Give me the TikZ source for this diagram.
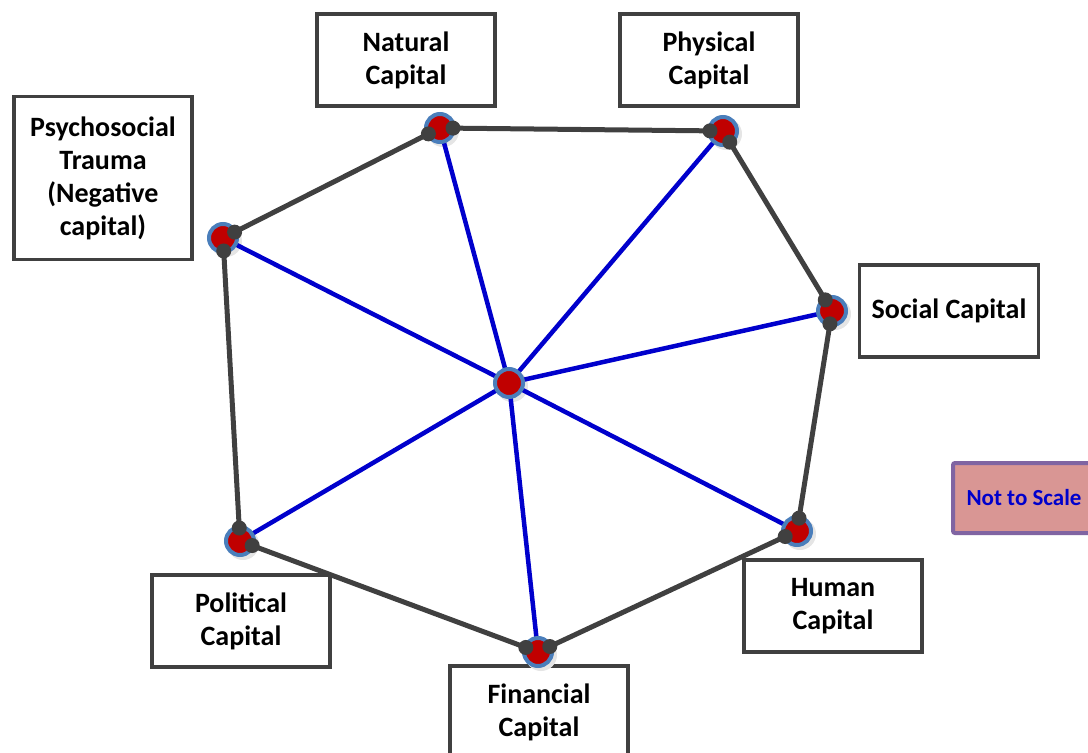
\documentclass[tikz,border=0pt]{standalone}
\usepackage{fontspec}
\setmainfont{Carlito}
\usetikzlibrary{calc}
\definecolor{edgegray}{HTML}{404040}
\definecolor{spokeblue}{HTML}{0000CC}
\definecolor{hubred}{HTML}{C00000}
\definecolor{ringblue}{HTML}{4A7EBB}
\definecolor{notefill}{HTML}{D99694}
\definecolor{noteline}{HTML}{8064A2}

\begin{document}
\begin{tikzpicture}[x=1pt, y=-1pt,
    capbox/.style={draw=edgegray, line width=3.5pt, fill=white, minimum width=178pt,
      minimum height=92pt, inner sep=0pt, align=center,
      font=\fontsize{28}{33}\selectfont\bfseries},
    hub/.style={circle, draw=ringblue, line width=4pt, fill=hubred,
      minimum size=28pt, inner sep=0pt},
    ring/.style={draw=edgegray, line width=5pt},
    spoke/.style={draw=spokeblue, line width=4.5pt}]
    \useasboundingbox (0,0) rectangle (1088,753);
    % vertices
    \coordinate (mid) at (509,383);
    \coordinate (nat) at (440,128);
    \coordinate (phy) at (723,131);
    \coordinate (soc) at (832,311);
    \coordinate (hum) at (797,531);
    \coordinate (fin) at (538,652);
    \coordinate (pol) at (240,541);
    \coordinate (psy) at (223,238);
    % boxes
    \node[capbox] (natbox) at (406,60) {Natural\\Capital};
    \node[capbox] (phybox) at (709,60) {Physical\\Capital};
    \node[capbox, minimum height=163pt] (psybox) at (103,178) {Psychosocial\\Trauma\\(Negative\\capital)};
    \node[capbox, minimum width=179pt] (socbox) at (949,311) {Social Capital};
    \node[capbox] (humbox) at (833,606) {Human\\Capital};
    \node[capbox] (polbox) at (241,621) {Political\\Capital};
    \node[capbox] (finbox) at (539,712) {Financial\\Capital};
    \node[draw=noteline, line width=4pt, fill=notefill, rounded corners=2pt,
      minimum width=142pt, minimum height=70pt, text=spokeblue,
      font=\fontsize{23}{27}\selectfont\bfseries] (note) at (1024,498) {Not to Scale};
    % shadows
    \foreach \v in {mid,nat,phy,soc,hum,fin,pol,psy}
      \fill[black!10] ($(\v)+(3,3)$) circle (16pt);
    % spokes
    \foreach \v in {nat,phy,soc,hum,fin,pol,psy}
      \draw[spoke] (mid) -- (\v);
    % outer ring
    \draw[ring] (psy) -- (nat) -- (phy) -- (soc) -- (hum) -- (fin) -- (pol) -- cycle;
    % hubs
    \foreach \v in {mid,nat,phy,soc,hum,fin,pol,psy}
      \node[hub] (\v hub) at (\v) {};
    % knobs where the ring meets the hubs
    \foreach \a/\b in {psy/nat,nat/phy,phy/soc,soc/hum,hum/fin,fin/pol,pol/psy}{
      \fill[edgegray] ($(\a)!13pt!(\b)$) circle (7.5pt);
      \fill[edgegray] ($(\b)!13pt!(\a)$) circle (7.5pt);
    }
\end{tikzpicture}
\end{document}
